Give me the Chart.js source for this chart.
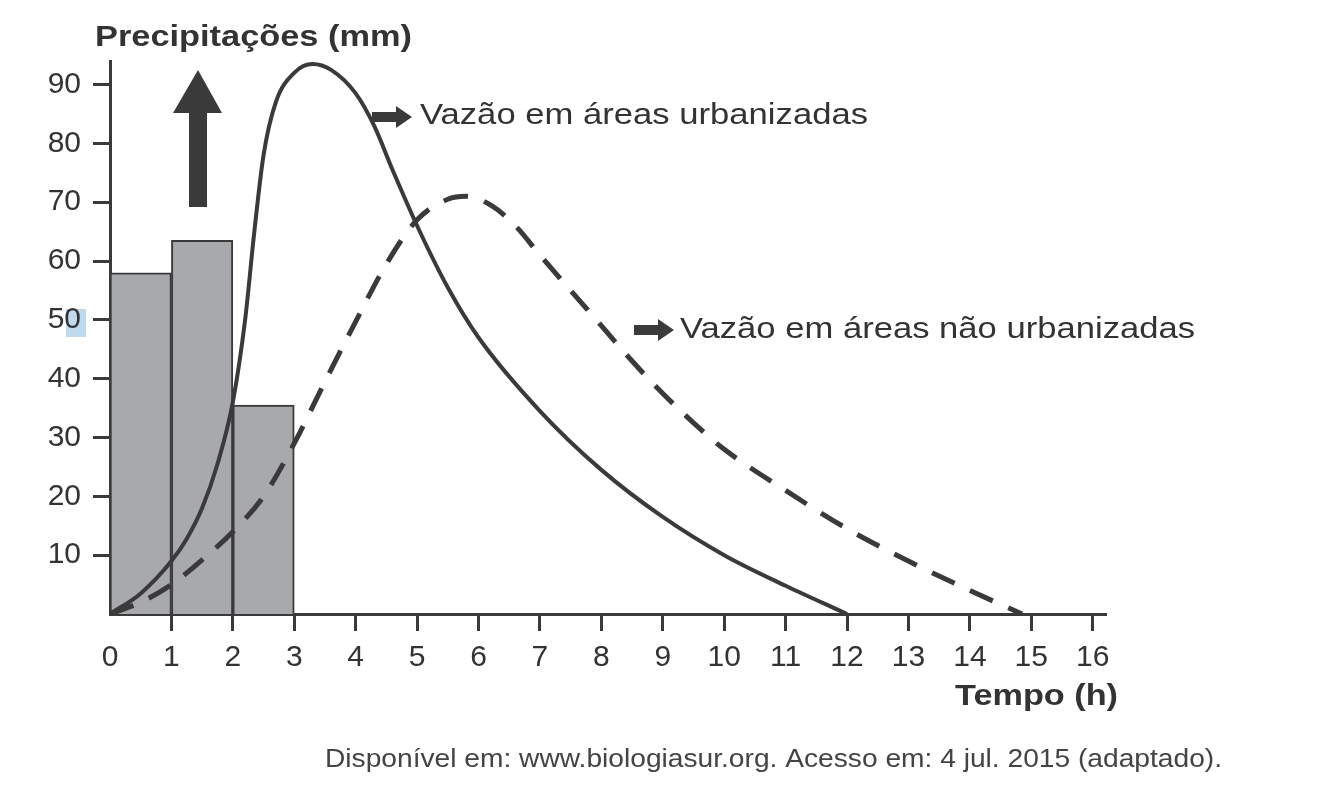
<!DOCTYPE html>
<html lang="pt-BR">
<head>
<meta charset="utf-8">
<title>Precipitações e vazão</title>
<script src="https://cdn.jsdelivr.net/npm/chart.js@4.4.1/dist/chart.umd.min.js"></script>
<style>
  html, body { margin: 0; padding: 0; background: #fff; }
  #chart { display: block; }
</style>
</head>
<body>
<canvas id="chart" width="1332" height="800"></canvas>
<script>
// --- Data ---
// rainfall bars, one per hour interval
const rainStart = [0, 1, 2]
const rainValues = [58, 63.5, 35.5]

// flow in urbanized areas (solid line)
const urbanHours = [0, 0.5, 1, 1.25, 1.5, 1.75, 2, 2.2, 2.35, 2.5, 2.7, 3, 3.3, 3.6, 4, 4.3, 4.6, 5, 5.5, 6, 7, 8, 9, 10, 11, 12]
const urbanFlow = [0, 3.5, 9, 12.8, 18, 25.5, 36, 50, 65, 78, 87, 92, 93.5, 92.5, 88.5, 83, 75.5, 66, 55.5, 47, 34.5, 24.5, 16.5, 10, 4.8, 0]

// flow in non-urbanized areas (dashed line)
const ruralHours = [0, 0.5, 1, 1.5, 2, 2.5, 3, 3.5, 4, 4.5, 5, 5.5, 5.8, 6.2, 6.6, 7, 7.5, 8, 8.5, 9, 9.5, 10, 11, 12, 13, 14, 14.85]
const ruralFlow = [0, 2, 5, 9.2, 14, 20, 29, 39.5, 49.7, 59.5, 67, 70.5, 71, 69.5, 66, 61, 55, 49, 43, 37.5, 32.5, 28, 21, 14.5, 9, 4, 0]

// tick labels
const yTickValues = [10, 20, 30, 40, 50, 60, 70, 80, 90]
const xTickValues = [0, 1, 2, 3, 4, 5, 6, 7, 8, 9, 10, 11, 12, 13, 14, 15, 16]

// --- Styles ---
const ink = '#3a3a3a'
const textColor = '#333'
const fontFamily = '"Liberation Sans", Arial, Helvetica, sans-serif'

const toPoints = (xs, ys) => xs.map((x, i) => ({ x: x, y: ys[i] }))

// draws a text stretched to a given width (the source picture is a bit wide)
function fitText(ctx, text, x, y, width) {
  const measured = ctx.measureText(text).width
  ctx.save()
  ctx.translate(x, y)
  ctx.scale(width / measured, 1)
  ctx.fillText(text, 0, 0)
  ctx.restore()
}

function smallArrow(ctx, x, y) {
  ctx.beginPath()
  ctx.moveTo(x, y - 5)
  ctx.lineTo(x + 24, y - 5)
  ctx.lineTo(x + 24, y - 11)
  ctx.lineTo(x + 40, y)
  ctx.lineTo(x + 24, y + 11)
  ctx.lineTo(x + 24, y + 5)
  ctx.lineTo(x, y + 5)
  ctx.closePath()
  ctx.fill()
}

// --- Plugin for the texts and arrows around the plot ---
const decorations = {
  id: 'decorations',
  beforeDraw(chart) {
    const ctx = chart.ctx
    // pale selection mark behind the "50" label
    ctx.save()
    ctx.fillStyle = 'rgba(160, 196, 228, 0.65)'
    ctx.fillRect(66, 309, 20, 28)
    ctx.restore()
  },
  afterDraw(chart) {
    const ctx = chart.ctx
    ctx.save()
    ctx.fillStyle = textColor
    ctx.textBaseline = 'middle'
    ctx.textAlign = 'left'

    // axis titles
    ctx.font = 'bold 30px ' + fontFamily
    fitText(ctx, 'Precipitações (mm)', 95, 38, 317)
    fitText(ctx, 'Tempo (h)', 955, 697, 163)

    // curve labels
    ctx.font = '30px ' + fontFamily
    fitText(ctx, 'Vazão em áreas urbanizadas', 420, 116, 448)
    fitText(ctx, 'Vazão em áreas não urbanizadas', 680, 330, 515)

    // source
    ctx.fillStyle = '#444'
    ctx.font = '25px ' + fontFamily
    fitText(ctx, 'Disponível em: www.biologiasur.org. Acesso em: 4 jul. 2015 (adaptado).', 325, 760, 897)

    // small pointing arrows
    ctx.fillStyle = ink
    smallArrow(ctx, 372, 117)
    smallArrow(ctx, 634, 330)

    // big upward arrow
    ctx.beginPath()
    ctx.moveTo(189, 207)
    ctx.lineTo(189, 113)
    ctx.lineTo(173, 113)
    ctx.lineTo(198, 70)
    ctx.lineTo(222, 113)
    ctx.lineTo(207, 113)
    ctx.lineTo(207, 207)
    ctx.closePath()
    ctx.fill()

    ctx.restore()
  },
}

// --- Chart ---
new Chart(document.getElementById('chart'), {
  type: 'line',
  data: {
    datasets: [
      {
        type: 'line',
        label: 'Vazão em áreas urbanizadas',
        data: toPoints(urbanHours, urbanFlow),
        borderColor: ink,
        borderWidth: 4,
        pointRadius: 0,
        cubicInterpolationMode: 'monotone',
        fill: false,
        order: 1,
      },
      {
        type: 'line',
        label: 'Vazão em áreas não urbanizadas',
        data: toPoints(ruralHours, ruralFlow),
        borderColor: ink,
        borderWidth: 5,
        borderDash: [25, 17],
        pointRadius: 0,
        cubicInterpolationMode: 'monotone',
        fill: false,
        order: 1,
      },
      {
        type: 'bar',
        label: 'Precipitações (mm)',
        data: toPoints(rainStart.map((h) => h + 0.5), rainValues),
        backgroundColor: '#a7a9ac',
        borderColor: ink,
        borderWidth: 2,
        borderSkipped: 'bottom',
        barPercentage: 1,
        categoryPercentage: 1,
        order: 2,
      },
    ],
  },
  options: {
    responsive: false,
    animation: false,
    devicePixelRatio: 1,
    layout: { padding: { top: 61, right: 227, left: 0, bottom: 0 } },
    plugins: {
      legend: { display: false },
      tooltip: { enabled: false },
    },
    scales: {
      x: {
        type: 'linear',
        min: 0,
        max: 16.2,
        offset: false,
        z: 1,
        afterBuildTicks: (scale) => {
          scale.ticks = xTickValues.map((v) => ({ value: v }))
        },
        afterFit: (scale) => {
          scale.height = 186
        },
        ticks: {
          font: { size: 30, family: fontFamily },
          color: textColor,
          padding: 9,
          maxRotation: 0,
          autoSkip: false,
        },
        grid: {
          offset: false,
          drawOnChartArea: false,
          tickLength: 17,
          lineWidth: 3,
          color: (c) => (c.tick && c.tick.value === 0 ? 'rgba(0,0,0,0)' : ink),
        },
        border: { color: ink, width: 3 },
      },
      y: {
        type: 'linear',
        min: 0,
        max: 94,
        z: 1,
        afterBuildTicks: (scale) => {
          scale.ticks = yTickValues.map((v) => ({ value: v }))
        },
        afterFit: (scale) => {
          scale.width = 110
        },
        ticks: {
          font: { size: 30, family: fontFamily },
          color: textColor,
          padding: 12,
        },
        grid: {
          drawOnChartArea: false,
          tickLength: 17,
          lineWidth: 3,
          color: ink,
        },
        border: { color: ink, width: 3 },
      },
    },
  },
  plugins: [decorations],
})
</script>
</body>
</html>
